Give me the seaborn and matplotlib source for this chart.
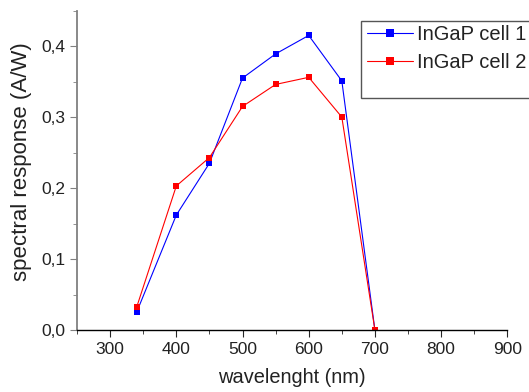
import pandas as pd
import numpy as np
import matplotlib
matplotlib.use("Agg")
import matplotlib.pyplot as plt
import seaborn as sns
from matplotlib.ticker import MultipleLocator, FuncFormatter
from matplotlib.patches import Rectangle

wavelength = [340, 400, 450, 500, 550, 600, 650, 700]
cell1 = [0.025, 0.162, 0.235, 0.355, 0.389, 0.415, 0.351, 0.0]
cell2 = [0.032, 0.203, 0.243, 0.315, 0.346, 0.356, 0.300, 0.0]
labels = ["InGaP cell 1", "InGaP cell 2"]

df = pd.DataFrame({
    "wavelength": wavelength * 2,
    "response": cell1 + cell2,
    "cell": [labels[0]] * len(wavelength) + [labels[1]] * len(wavelength),
})

sns.set_style("ticks")
plt.rcParams["font.family"] = ["Liberation Sans", "DejaVu Sans"]

fig = plt.figure(figsize=(5.29, 3.92), dpi=100)
ax = fig.add_axes([0.1456, 0.158, 0.959 - 0.1456, 0.973 - 0.158])

sns.lineplot(data=df, x="wavelength", y="response", hue="cell", style="cell",
             palette={labels[0]: "#0000ff", labels[1]: "#ff0000"},
             markers={labels[0]: "s", labels[1]: "s"}, dashes=False,
             markersize=5, markeredgewidth=0, linewidth=0.8, ax=ax, legend=False)

ax.set_xlim(250, 900)
ax.set_ylim(0, 0.45)
ax.xaxis.set_major_locator(MultipleLocator(100))
ax.xaxis.set_minor_locator(MultipleLocator(50))
ax.yaxis.set_major_locator(MultipleLocator(0.1))
ax.yaxis.set_minor_locator(MultipleLocator(0.05))
ax.yaxis.set_major_formatter(FuncFormatter(lambda v, p: f"{v:.1f}".replace(".", ",")))
ax.set_xticks([300, 400, 500, 600, 700, 800, 900])

for s in ["top", "right"]:
    ax.spines[s].set_visible(False)
ax.spines["left"].set_color("#808080")
ax.spines["bottom"].set_color("black")
ax.spines["left"].set_linewidth(1.3)
ax.spines["bottom"].set_linewidth(1.0)
ax.tick_params(axis="both", which="major", labelsize=12.5, length=5, direction="out",
               labelcolor="#222222")
ax.tick_params(axis="both", which="minor", length=3, direction="out")
ax.tick_params(axis="y", which="both", color="#808080")
ax.set_xlabel("wavelenght (nm)", fontsize=14.4, color="#222222")
ax.set_ylabel("spectral response (A/W)", fontsize=16, color="#222222")
ax.xaxis.set_label_coords(0.5, -0.118)
ax.yaxis.set_label_coords(-0.128, 0.528)
ax.yaxis.label.set_va("center")

# legend box
fig.patches.append(Rectangle((361 / 529, 1 - 98 / 392), 0.4, 77 / 392,
                             transform=fig.transFigure, facecolor="white",
                             edgecolor="#555555", linewidth=1.0, zorder=5))
handles = [plt.Line2D([], [], color="#0000ff", marker="s", markersize=6, linewidth=0.8, markeredgewidth=0),
           plt.Line2D([], [], color="#ff0000", marker="s", markersize=6, linewidth=0.8, markeredgewidth=0)]
leg = fig.legend(handles, labels, loc="upper left", bbox_to_anchor=(367 / 529, 1 - 25 / 392),
                 frameon=False, fontsize=14.5, handlelength=2.3, handletextpad=0.2,
                 labelspacing=0.45, borderpad=0, borderaxespad=0)
for t in leg.get_texts():
    t.set_color("#222222")
leg.set_zorder(6)

fig.savefig("out.png", dpi=100)
